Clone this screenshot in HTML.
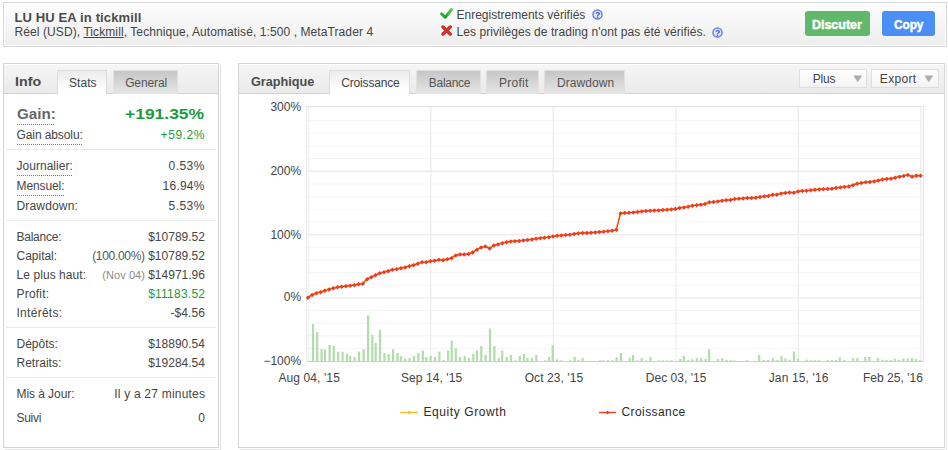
<!DOCTYPE html>
<html><head><meta charset="utf-8"><title>LU HU EA in tickmill</title><style>
*{box-sizing:border-box;margin:0;padding:0}
html,body{width:948px;height:450px;overflow:hidden;background:#fff}
body{position:relative;font-family:"Liberation Sans",sans-serif;font-size:12px;color:#444}
.abs{position:absolute;white-space:nowrap}
.tx{position:absolute;white-space:nowrap;line-height:20px;height:20px}
#hdr{left:3px;top:2px;width:944px;height:45px;border:1px solid #d7d7d7;background:linear-gradient(#fdfdfd,#eeeeee);box-shadow:inset 0 0 0 1px #fff}
.panel{top:63px;height:385px;border:1px solid #d4d4d4;background:#fff;box-shadow:1px 1px 0 0 #fff,2px 2px 1px 0 rgba(0,0,0,.1)}
.tabbar{left:0;top:0;right:0;height:30px;border-bottom:1px solid #d3d3d3;background:linear-gradient(#f6f6f6,#eaeaea);box-shadow:inset 0 1px 0 #fdfdfd}
.tab{top:70px;height:24px;border:1px solid #e1e1e1;border-bottom:none;background:linear-gradient(#c6c6c6,#e6e6e6)}
.tab.on{background:linear-gradient(#ececec,#ffffff 85%);height:24px;border-color:#dcdcdc}
.dot{height:1px;background-image:linear-gradient(90deg,#777 50%,transparent 50%);background-size:2px 1px}
.sep{left:6px;width:210px;height:1px;background:#e9e9e9}
.btn{top:11px;height:25px;border-radius:3px}
.dd{top:69px;height:19px;border:1px solid #dedede;background:linear-gradient(#fff,#f3f3f3)}
</style></head><body>
<div id="hdr" class="abs"></div>
<svg class="abs" style="left:438px;top:6px" width="18" height="15" viewBox="438 6 18 15"><defs><linearGradient id="gc" x1="0" y1="0" x2="0" y2="1"><stop offset="0" stop-color="#52d052"/><stop offset="1" stop-color="#1d9a2c"/></linearGradient><linearGradient id="gx" x1="0" y1="0" x2="0" y2="1"><stop offset="0" stop-color="#e24a4a"/><stop offset="1" stop-color="#b81414"/></linearGradient></defs><path d="M441.5,13.7 L445.2,17.3 L451.5,9.5" fill="none" stroke="url(#gc)" stroke-width="2.9" stroke-linecap="round" stroke-linejoin="round"/></svg>
<svg class="abs" style="left:438px;top:23px" width="18" height="15" viewBox="438 23 18 15"><path d="M442.9,26.9 L450.3,34.1 M450.3,26.9 L442.9,34.1" fill="none" stroke="#c41a1a" stroke-width="3.3" stroke-linecap="round"/><path d="M442.9,26.9 L450.3,34.1 M450.3,26.9 L442.9,34.1" fill="none" stroke="#d93434" stroke-width="1.9" stroke-linecap="round"/></svg>
<svg class="abs" style="left:591.9px;top:9.2px" width="11" height="11" viewBox="0 0 11 11"><circle cx="5.5" cy="5.5" r="4.55" fill="#e6e8f0" stroke="#6a86ea" stroke-width="1.5"/><text x="5.5" y="8.5" font-size="8.6" font-weight="bold" text-anchor="middle" fill="#3152c8" font-family="Liberation Sans">?</text></svg>
<svg class="abs" style="left:711.8px;top:26.6px" width="11" height="11" viewBox="0 0 11 11"><circle cx="5.5" cy="5.5" r="4.55" fill="#e6e8f0" stroke="#6a86ea" stroke-width="1.5"/><text x="5.5" y="8.5" font-size="8.6" font-weight="bold" text-anchor="middle" fill="#3152c8" font-family="Liberation Sans">?</text></svg>
<div class="abs btn" style="left:805px;width:65px;background:#60b96b"></div>
<div class="abs btn" style="left:882px;width:53px;background:#4b8ef6"></div>
<div class="abs panel" style="left:3px;width:216px"><div class="abs tabbar"></div></div>
<div class="abs tab on" style="left:57px;width:50px"></div>
<div class="abs tab" style="left:113px;width:65px"></div>
<div class="abs sep" style="top:149px"></div>
<div class="abs sep" style="top:220px"></div>
<div class="abs sep" style="top:327px"></div>
<div class="abs sep" style="top:377px"></div>
<div class="abs dot" style="left:17px;width:38px;top:124px"></div>
<div class="abs dot" style="left:17px;width:66px;top:144px"></div>
<div class="abs dot" style="left:17px;width:56px;top:175px"></div>
<div class="abs dot" style="left:17px;width:48px;top:195px"></div>
<div class="abs panel" style="left:238px;width:707px"><div class="abs tabbar"></div></div>
<div class="abs tab on" style="left:329px;width:81px"></div>
<div class="abs tab" style="left:416px;width:65px"></div>
<div class="abs tab" style="left:486px;width:53px"></div>
<div class="abs tab" style="left:544px;width:81px"></div>
<div class="abs dd" style="left:799px;width:68px"><svg class="abs" style="left:52.6px;top:4.8px" width="10" height="8" viewBox="0 0 10 8"><path d="M0.3,0.6H9.3L4.8,7.2z" fill="#adadad"/></svg></div>
<div class="abs dd" style="left:871px;width:68px"><svg class="abs" style="left:52.2px;top:4.8px" width="10" height="8" viewBox="0 0 10 8"><path d="M0.3,0.6H9.3L4.8,7.2z" fill="#adadad"/></svg></div>
<svg id="chart" width="948" height="450" viewBox="0 0 948 450" style="position:absolute;left:0;top:0">
<g><line x1="306.2" y1="106.7" x2="924.0" y2="106.7" stroke="#e5e5e5" stroke-width="1.3"/><line x1="306.8" y1="120.66" x2="923.4" y2="120.66" stroke="#f5f5f5" stroke-width="1.1"/><line x1="306.8" y1="133.32" x2="923.4" y2="133.32" stroke="#f5f5f5" stroke-width="1.1"/><line x1="306.8" y1="145.98" x2="923.4" y2="145.98" stroke="#f5f5f5" stroke-width="1.1"/><line x1="306.8" y1="158.64" x2="923.4" y2="158.64" stroke="#f5f5f5" stroke-width="1.1"/><line x1="306.8" y1="171.30" x2="923.4" y2="171.30" stroke="#ebebeb" stroke-width="1.4"/><line x1="306.8" y1="183.96" x2="923.4" y2="183.96" stroke="#f5f5f5" stroke-width="1.1"/><line x1="306.8" y1="196.62" x2="923.4" y2="196.62" stroke="#f5f5f5" stroke-width="1.1"/><line x1="306.8" y1="209.28" x2="923.4" y2="209.28" stroke="#f5f5f5" stroke-width="1.1"/><line x1="306.8" y1="221.94" x2="923.4" y2="221.94" stroke="#f5f5f5" stroke-width="1.1"/><line x1="306.8" y1="234.60" x2="923.4" y2="234.60" stroke="#ebebeb" stroke-width="1.4"/><line x1="306.8" y1="247.26" x2="923.4" y2="247.26" stroke="#f5f5f5" stroke-width="1.1"/><line x1="306.8" y1="259.92" x2="923.4" y2="259.92" stroke="#f5f5f5" stroke-width="1.1"/><line x1="306.8" y1="272.58" x2="923.4" y2="272.58" stroke="#f5f5f5" stroke-width="1.1"/><line x1="306.8" y1="285.24" x2="923.4" y2="285.24" stroke="#f5f5f5" stroke-width="1.1"/><line x1="306.8" y1="297.90" x2="923.4" y2="297.90" stroke="#ebebeb" stroke-width="1.4"/><line x1="306.8" y1="310.56" x2="923.4" y2="310.56" stroke="#f5f5f5" stroke-width="1.1"/><line x1="306.8" y1="323.22" x2="923.4" y2="323.22" stroke="#f5f5f5" stroke-width="1.1"/><line x1="306.8" y1="335.88" x2="923.4" y2="335.88" stroke="#f5f5f5" stroke-width="1.1"/><line x1="306.8" y1="348.54" x2="923.4" y2="348.54" stroke="#f5f5f5" stroke-width="1.1"/><line x1="308.6" y1="107" x2="308.6" y2="361.0" stroke="#f3f3f3" stroke-width="1"/><line x1="430.8" y1="107" x2="430.8" y2="361.0" stroke="#eeeeee" stroke-width="1.3"/><line x1="553.2" y1="107" x2="553.2" y2="361.0" stroke="#eeeeee" stroke-width="1.3"/><line x1="675.9" y1="107" x2="675.9" y2="361.0" stroke="#eeeeee" stroke-width="1.3"/><line x1="798.3" y1="107" x2="798.3" y2="361.0" stroke="#eeeeee" stroke-width="1.3"/><line x1="920.7" y1="107" x2="920.7" y2="361.0" stroke="#eeeeee" stroke-width="1.3"/><line x1="306.8" y1="106.1" x2="306.8" y2="361.0" stroke="#e8e8e8" stroke-width="1.1"/><line x1="923.4" y1="106.1" x2="923.4" y2="361.0" stroke="#e6e6e6" stroke-width="1.3"/></g>
<g fill="#a3d69e" fill-opacity="0.85"><rect x="311.9" y="324.0" width="2.2" height="37.0"/><rect x="316.1" y="332.0" width="2.2" height="29.0"/><rect x="320.5" y="349.2" width="2.2" height="11.8"/><rect x="323.9" y="349.5" width="2.2" height="11.5"/><rect x="328.5" y="345.0" width="2.2" height="16.0"/><rect x="332.7" y="346.0" width="2.2" height="15.0"/><rect x="337.1" y="351.7" width="2.2" height="9.3"/><rect x="341.5" y="351.7" width="2.2" height="9.3"/><rect x="345.9" y="354.0" width="2.2" height="7.0"/><rect x="349.1" y="356.0" width="2.2" height="5.0"/><rect x="353.5" y="357.0" width="2.2" height="4.0"/><rect x="358.0" y="351.7" width="2.2" height="9.3"/><rect x="362.6" y="349.3" width="2.2" height="11.7"/><rect x="367.0" y="315.4" width="2.2" height="45.6"/><rect x="371.2" y="335.0" width="2.2" height="26.0"/><rect x="374.6" y="343.0" width="2.2" height="18.0"/><rect x="378.9" y="329.8" width="2.2" height="31.2"/><rect x="383.4" y="353.0" width="2.2" height="8.0"/><rect x="387.6" y="354.0" width="2.2" height="7.0"/><rect x="392.0" y="349.3" width="2.2" height="11.7"/><rect x="396.4" y="353.0" width="2.2" height="8.0"/><rect x="399.7" y="356.0" width="2.2" height="5.0"/><rect x="404.1" y="359.0" width="2.2" height="2.0"/><rect x="408.5" y="358.0" width="2.2" height="3.0"/><rect x="412.9" y="356.0" width="2.2" height="5.0"/><rect x="417.3" y="353.0" width="2.2" height="8.0"/><rect x="421.7" y="350.5" width="2.2" height="10.5"/><rect x="425.1" y="357.0" width="2.2" height="4.0"/><rect x="429.5" y="356.0" width="2.2" height="5.0"/><rect x="433.9" y="357.0" width="2.2" height="4.0"/><rect x="438.3" y="351.7" width="2.2" height="9.3"/><rect x="442.7" y="360.0" width="2.2" height="1.0"/><rect x="447.0" y="350.5" width="2.2" height="10.5"/><rect x="450.6" y="340.6" width="2.2" height="20.4"/><rect x="454.7" y="348.2" width="2.2" height="12.8"/><rect x="458.9" y="357.0" width="2.2" height="4.0"/><rect x="463.6" y="356.0" width="2.2" height="5.0"/><rect x="467.8" y="358.0" width="2.2" height="3.0"/><rect x="472.2" y="354.0" width="2.2" height="7.0"/><rect x="475.9" y="350.5" width="2.2" height="10.5"/><rect x="480.2" y="346.0" width="2.2" height="15.0"/><rect x="484.5" y="355.0" width="2.2" height="6.0"/><rect x="488.9" y="328.6" width="2.2" height="32.4"/><rect x="493.3" y="346.0" width="2.2" height="15.0"/><rect x="497.7" y="358.0" width="2.2" height="3.0"/><rect x="501.1" y="350.5" width="2.2" height="10.5"/><rect x="505.5" y="357.0" width="2.2" height="4.0"/><rect x="509.9" y="355.0" width="2.2" height="6.0"/><rect x="514.3" y="360.3" width="2.2" height="0.7"/><rect x="518.7" y="356.0" width="2.2" height="5.0"/><rect x="522.9" y="354.0" width="2.2" height="7.0"/><rect x="526.4" y="358.0" width="2.2" height="3.0"/><rect x="530.8" y="358.0" width="2.2" height="3.0"/><rect x="535.2" y="355.0" width="2.2" height="6.0"/><rect x="544.0" y="360.3" width="2.2" height="0.7"/><rect x="548.2" y="357.0" width="2.2" height="4.0"/><rect x="551.6" y="345.0" width="2.2" height="16.0"/><rect x="556.0" y="359.3" width="2.2" height="1.7"/><rect x="560.4" y="360.3" width="2.2" height="0.7"/><rect x="569.2" y="360.3" width="2.2" height="0.7"/><rect x="573.6" y="357.0" width="2.2" height="4.0"/><rect x="577.3" y="359.8" width="2.2" height="1.2"/><rect x="581.5" y="358.0" width="2.2" height="3.0"/><rect x="599.1" y="360.3" width="2.2" height="0.7"/><rect x="602.3" y="360.3" width="2.2" height="0.7"/><rect x="606.9" y="360.2" width="2.2" height="0.8"/><rect x="611.1" y="360.2" width="2.2" height="0.8"/><rect x="615.5" y="357.3" width="2.2" height="3.7"/><rect x="619.8" y="352.9" width="2.2" height="8.1"/><rect x="628.6" y="358.1" width="2.2" height="2.9"/><rect x="632.0" y="355.0" width="2.2" height="6.0"/><rect x="636.4" y="360.3" width="2.2" height="0.7"/><rect x="640.6" y="358.1" width="2.2" height="2.9"/><rect x="645.0" y="360.3" width="2.2" height="0.7"/><rect x="649.4" y="357.0" width="2.2" height="4.0"/><rect x="657.5" y="360.3" width="2.2" height="0.7"/><rect x="661.9" y="360.3" width="2.2" height="0.7"/><rect x="666.1" y="360.3" width="2.2" height="0.7"/><rect x="670.5" y="360.3" width="2.2" height="0.7"/><rect x="679.1" y="359.0" width="2.2" height="2.0"/><rect x="682.7" y="356.0" width="2.2" height="5.0"/><rect x="687.1" y="359.8" width="2.2" height="1.2"/><rect x="691.3" y="359.3" width="2.2" height="1.7"/><rect x="695.7" y="358.1" width="2.2" height="2.9"/><rect x="700.1" y="358.1" width="2.2" height="2.9"/><rect x="704.5" y="359.0" width="2.2" height="2.0"/><rect x="708.0" y="349.3" width="2.2" height="11.7"/><rect x="716.8" y="359.0" width="2.2" height="2.0"/><rect x="721.0" y="358.1" width="2.2" height="2.9"/><rect x="725.3" y="359.8" width="2.2" height="1.2"/><rect x="729.8" y="360.3" width="2.2" height="0.7"/><rect x="733.2" y="360.3" width="2.2" height="0.7"/><rect x="746.2" y="360.2" width="2.2" height="0.8"/><rect x="758.1" y="354.9" width="2.2" height="6.1"/><rect x="762.7" y="360.0" width="2.2" height="1.0"/><rect x="767.1" y="360.0" width="2.2" height="1.0"/><rect x="771.8" y="358.5" width="2.2" height="2.5"/><rect x="776.2" y="360.0" width="2.2" height="1.0"/><rect x="780.4" y="356.2" width="2.2" height="4.8"/><rect x="784.3" y="358.5" width="2.2" height="2.5"/><rect x="788.6" y="359.7" width="2.2" height="1.3"/><rect x="792.9" y="351.5" width="2.2" height="9.5"/><rect x="797.1" y="359.0" width="2.2" height="2.0"/><rect x="805.7" y="359.7" width="2.2" height="1.3"/><rect x="809.7" y="360.2" width="2.2" height="0.8"/><rect x="813.9" y="360.2" width="2.2" height="0.8"/><rect x="818.1" y="360.2" width="2.2" height="0.8"/><rect x="826.7" y="360.2" width="2.2" height="0.8"/><rect x="830.7" y="360.0" width="2.2" height="1.0"/><rect x="834.9" y="360.0" width="2.2" height="1.0"/><rect x="838.7" y="357.4" width="2.2" height="3.6"/><rect x="843.1" y="360.0" width="2.2" height="1.0"/><rect x="852.1" y="358.1" width="2.2" height="2.9"/><rect x="856.3" y="358.1" width="2.2" height="2.9"/><rect x="864.1" y="357.0" width="2.2" height="4.0"/><rect x="868.3" y="357.0" width="2.2" height="4.0"/><rect x="876.9" y="358.1" width="2.2" height="2.9"/><rect x="881.3" y="359.7" width="2.2" height="1.3"/><rect x="885.5" y="360.0" width="2.2" height="1.0"/><rect x="889.7" y="360.0" width="2.2" height="1.0"/><rect x="893.7" y="358.7" width="2.2" height="2.3"/><rect x="897.9" y="360.0" width="2.2" height="1.0"/><rect x="902.3" y="358.5" width="2.2" height="2.5"/><rect x="906.5" y="358.7" width="2.2" height="2.3"/><rect x="910.8" y="358.1" width="2.2" height="2.9"/><rect x="914.8" y="359.1" width="2.2" height="1.9"/><rect x="918.9" y="360.2" width="2.2" height="0.8"/></g>
<line x1="306.8" y1="361.45" x2="924.0" y2="361.45" stroke="#c4d1e2" stroke-width="1.15"/>
<path d="M307.9,297.6 L312.1,295.0 L316.4,293.3 L320.6,292.2 L324.8,290.8 L329.0,289.5 L333.3,288.3 L337.5,287.4 L341.7,286.8 L345.9,286.1 L350.2,285.7 L354.4,285.1 L358.6,284.4 L362.8,283.7 L367.1,279.3 L371.3,277.3 L375.5,275.1 L379.7,273.4 L384.0,272.2 L388.2,271.2 L392.4,269.9 L396.6,269.2 L400.9,268.3 L405.1,267.5 L409.3,266.1 L413.5,265.1 L417.8,263.8 L422.0,262.4 L426.2,262.1 L430.4,261.4 L434.7,260.7 L438.9,259.9 L443.1,260.1 L447.3,259.2 L451.6,258.1 L455.8,255.5 L460.0,254.6 L464.2,254.4 L468.5,254.1 L472.7,252.4 L476.9,249.8 L481.1,247.6 L485.4,246.5 L489.6,248.5 L493.8,245.6 L498.0,244.4 L502.3,243.2 L506.5,242.2 L510.7,241.6 L514.9,241.2 L519.2,240.9 L523.4,240.5 L527.6,239.9 L531.9,239.4 L536.1,238.7 L540.3,238.2 L544.5,237.7 L548.8,237.2 L553.0,236.5 L557.2,235.8 L561.4,235.5 L565.7,235.1 L569.9,234.8 L574.1,234.1 L578.3,233.4 L582.6,233.1 L586.8,232.9 L591.0,232.8 L595.2,232.4 L599.5,232.1 L603.7,231.8 L607.9,231.3 L612.1,230.7 L616.4,229.8 L620.6,213.4 L624.8,213.1 L629.0,212.8 L633.3,212.4 L637.5,211.9 L641.7,211.4 L645.9,211.1 L650.2,210.7 L654.4,210.6 L658.6,210.4 L662.8,210.1 L667.1,209.7 L671.3,209.4 L675.5,209.1 L679.7,207.9 L684.0,207.4 L688.2,206.7 L692.4,205.8 L696.6,205.3 L700.9,204.7 L705.1,204.0 L709.3,202.3 L713.5,202.0 L717.8,201.5 L722.0,200.8 L726.2,200.3 L730.5,199.9 L734.7,199.1 L738.9,198.8 L743.1,198.4 L747.4,198.1 L751.6,197.9 L755.8,197.7 L760.0,197.1 L764.3,196.4 L768.5,195.9 L772.7,194.7 L776.9,194.7 L781.2,193.6 L785.4,193.0 L789.6,192.4 L793.8,192.8 L798.1,191.5 L802.3,191.1 L806.5,190.7 L810.7,190.3 L815.0,189.7 L819.2,189.4 L823.4,189.2 L827.6,189.0 L831.9,188.8 L836.1,188.0 L840.3,187.5 L844.5,186.9 L848.8,186.5 L853.0,185.2 L857.2,183.8 L861.4,183.1 L865.7,182.3 L869.9,182.1 L874.1,181.5 L878.3,180.6 L882.6,179.6 L886.8,179.0 L891.0,178.7 L895.2,177.7 L899.5,176.8 L903.7,176.0 L907.9,175.0 L912.1,176.8 L916.4,175.8 L920.6,175.8" fill="none" stroke="#f8b820" stroke-width="1.5" transform="translate(-0.3,-0.5)"/>
<path d="M307.9,297.6 L312.1,295.0 L316.4,293.3 L320.6,292.2 L324.8,290.8 L329.0,289.5 L333.3,288.3 L337.5,287.4 L341.7,286.8 L345.9,286.1 L350.2,285.7 L354.4,285.1 L358.6,284.4 L362.8,283.7 L367.1,279.3 L371.3,277.3 L375.5,275.1 L379.7,273.4 L384.0,272.2 L388.2,271.2 L392.4,269.9 L396.6,269.2 L400.9,268.3 L405.1,267.5 L409.3,266.1 L413.5,265.1 L417.8,263.8 L422.0,262.4 L426.2,262.1 L430.4,261.4 L434.7,260.7 L438.9,259.9 L443.1,260.1 L447.3,259.2 L451.6,258.1 L455.8,255.5 L460.0,254.6 L464.2,254.4 L468.5,254.1 L472.7,252.4 L476.9,249.8 L481.1,247.6 L485.4,246.5 L489.6,248.5 L493.8,245.6 L498.0,244.4 L502.3,243.2 L506.5,242.2 L510.7,241.6 L514.9,241.2 L519.2,240.9 L523.4,240.5 L527.6,239.9 L531.9,239.4 L536.1,238.7 L540.3,238.2 L544.5,237.7 L548.8,237.2 L553.0,236.5 L557.2,235.8 L561.4,235.5 L565.7,235.1 L569.9,234.8 L574.1,234.1 L578.3,233.4 L582.6,233.1 L586.8,232.9 L591.0,232.8 L595.2,232.4 L599.5,232.1 L603.7,231.8 L607.9,231.3 L612.1,230.7 L616.4,229.8 L620.6,213.4 L624.8,213.1 L629.0,212.8 L633.3,212.4 L637.5,211.9 L641.7,211.4 L645.9,211.1 L650.2,210.7 L654.4,210.6 L658.6,210.4 L662.8,210.1 L667.1,209.7 L671.3,209.4 L675.5,209.1 L679.7,207.9 L684.0,207.4 L688.2,206.7 L692.4,205.8 L696.6,205.3 L700.9,204.7 L705.1,204.0 L709.3,202.3 L713.5,202.0 L717.8,201.5 L722.0,200.8 L726.2,200.3 L730.5,199.9 L734.7,199.1 L738.9,198.8 L743.1,198.4 L747.4,198.1 L751.6,197.9 L755.8,197.7 L760.0,197.1 L764.3,196.4 L768.5,195.9 L772.7,194.7 L776.9,194.7 L781.2,193.6 L785.4,193.0 L789.6,192.4 L793.8,192.8 L798.1,191.5 L802.3,191.1 L806.5,190.7 L810.7,190.3 L815.0,189.7 L819.2,189.4 L823.4,189.2 L827.6,189.0 L831.9,188.8 L836.1,188.0 L840.3,187.5 L844.5,186.9 L848.8,186.5 L853.0,185.2 L857.2,183.8 L861.4,183.1 L865.7,182.3 L869.9,182.1 L874.1,181.5 L878.3,180.6 L882.6,179.6 L886.8,179.0 L891.0,178.7 L895.2,177.7 L899.5,176.8 L903.7,176.0 L907.9,175.0 L912.1,176.8 L916.4,175.8 L920.6,175.8" fill="none" stroke="#ee3b25" stroke-width="1.15" stroke-linejoin="round"/>
<g fill="#ee3b25"><path d="M307.9,295.4l2.25,2.25l-2.25,2.25l-2.25,-2.25z"/><path d="M312.1,292.8l2.25,2.25l-2.25,2.25l-2.25,-2.25z"/><path d="M316.4,291.1l2.25,2.25l-2.25,2.25l-2.25,-2.25z"/><path d="M320.6,289.9l2.25,2.25l-2.25,2.25l-2.25,-2.25z"/><path d="M324.8,288.6l2.25,2.25l-2.25,2.25l-2.25,-2.25z"/><path d="M329.0,287.2l2.25,2.25l-2.25,2.25l-2.25,-2.25z"/><path d="M333.3,286.1l2.25,2.25l-2.25,2.25l-2.25,-2.25z"/><path d="M337.5,285.1l2.25,2.25l-2.25,2.25l-2.25,-2.25z"/><path d="M341.7,284.6l2.25,2.25l-2.25,2.25l-2.25,-2.25z"/><path d="M345.9,283.9l2.25,2.25l-2.25,2.25l-2.25,-2.25z"/><path d="M350.2,283.4l2.25,2.25l-2.25,2.25l-2.25,-2.25z"/><path d="M354.4,282.9l2.25,2.25l-2.25,2.25l-2.25,-2.25z"/><path d="M358.6,282.1l2.25,2.25l-2.25,2.25l-2.25,-2.25z"/><path d="M362.8,281.4l2.25,2.25l-2.25,2.25l-2.25,-2.25z"/><path d="M367.1,277.1l2.25,2.25l-2.25,2.25l-2.25,-2.25z"/><path d="M371.3,275.1l2.25,2.25l-2.25,2.25l-2.25,-2.25z"/><path d="M375.5,272.9l2.25,2.25l-2.25,2.25l-2.25,-2.25z"/><path d="M379.7,271.1l2.25,2.25l-2.25,2.25l-2.25,-2.25z"/><path d="M384.0,269.9l2.25,2.25l-2.25,2.25l-2.25,-2.25z"/><path d="M388.2,268.9l2.25,2.25l-2.25,2.25l-2.25,-2.25z"/><path d="M392.4,267.6l2.25,2.25l-2.25,2.25l-2.25,-2.25z"/><path d="M396.6,266.9l2.25,2.25l-2.25,2.25l-2.25,-2.25z"/><path d="M400.9,266.1l2.25,2.25l-2.25,2.25l-2.25,-2.25z"/><path d="M405.1,265.2l2.25,2.25l-2.25,2.25l-2.25,-2.25z"/><path d="M409.3,263.9l2.25,2.25l-2.25,2.25l-2.25,-2.25z"/><path d="M413.5,262.9l2.25,2.25l-2.25,2.25l-2.25,-2.25z"/><path d="M417.8,261.6l2.25,2.25l-2.25,2.25l-2.25,-2.25z"/><path d="M422.0,260.1l2.25,2.25l-2.25,2.25l-2.25,-2.25z"/><path d="M426.2,259.9l2.25,2.25l-2.25,2.25l-2.25,-2.25z"/><path d="M430.4,259.1l2.25,2.25l-2.25,2.25l-2.25,-2.25z"/><path d="M434.7,258.4l2.25,2.25l-2.25,2.25l-2.25,-2.25z"/><path d="M438.9,257.6l2.25,2.25l-2.25,2.25l-2.25,-2.25z"/><path d="M443.1,257.9l2.25,2.25l-2.25,2.25l-2.25,-2.25z"/><path d="M447.3,256.9l2.25,2.25l-2.25,2.25l-2.25,-2.25z"/><path d="M451.6,255.9l2.25,2.25l-2.25,2.25l-2.25,-2.25z"/><path d="M455.8,253.2l2.25,2.25l-2.25,2.25l-2.25,-2.25z"/><path d="M460.0,252.3l2.25,2.25l-2.25,2.25l-2.25,-2.25z"/><path d="M464.2,252.2l2.25,2.25l-2.25,2.25l-2.25,-2.25z"/><path d="M468.5,251.8l2.25,2.25l-2.25,2.25l-2.25,-2.25z"/><path d="M472.7,250.2l2.25,2.25l-2.25,2.25l-2.25,-2.25z"/><path d="M476.9,247.6l2.25,2.25l-2.25,2.25l-2.25,-2.25z"/><path d="M481.1,245.3l2.25,2.25l-2.25,2.25l-2.25,-2.25z"/><path d="M485.4,244.2l2.25,2.25l-2.25,2.25l-2.25,-2.25z"/><path d="M489.6,246.2l2.25,2.25l-2.25,2.25l-2.25,-2.25z"/><path d="M493.8,243.3l2.25,2.25l-2.25,2.25l-2.25,-2.25z"/><path d="M498.0,242.2l2.25,2.25l-2.25,2.25l-2.25,-2.25z"/><path d="M502.3,240.9l2.25,2.25l-2.25,2.25l-2.25,-2.25z"/><path d="M506.5,239.9l2.25,2.25l-2.25,2.25l-2.25,-2.25z"/><path d="M510.7,239.3l2.25,2.25l-2.25,2.25l-2.25,-2.25z"/><path d="M514.9,238.9l2.25,2.25l-2.25,2.25l-2.25,-2.25z"/><path d="M519.2,238.7l2.25,2.25l-2.25,2.25l-2.25,-2.25z"/><path d="M523.4,238.2l2.25,2.25l-2.25,2.25l-2.25,-2.25z"/><path d="M527.6,237.7l2.25,2.25l-2.25,2.25l-2.25,-2.25z"/><path d="M531.9,237.2l2.25,2.25l-2.25,2.25l-2.25,-2.25z"/><path d="M536.1,236.4l2.25,2.25l-2.25,2.25l-2.25,-2.25z"/><path d="M540.3,235.9l2.25,2.25l-2.25,2.25l-2.25,-2.25z"/><path d="M544.5,235.4l2.25,2.25l-2.25,2.25l-2.25,-2.25z"/><path d="M548.8,234.9l2.25,2.25l-2.25,2.25l-2.25,-2.25z"/><path d="M553.0,234.2l2.25,2.25l-2.25,2.25l-2.25,-2.25z"/><path d="M557.2,233.6l2.25,2.25l-2.25,2.25l-2.25,-2.25z"/><path d="M561.4,233.2l2.25,2.25l-2.25,2.25l-2.25,-2.25z"/><path d="M565.7,232.8l2.25,2.25l-2.25,2.25l-2.25,-2.25z"/><path d="M569.9,232.6l2.25,2.25l-2.25,2.25l-2.25,-2.25z"/><path d="M574.1,231.8l2.25,2.25l-2.25,2.25l-2.25,-2.25z"/><path d="M578.3,231.2l2.25,2.25l-2.25,2.25l-2.25,-2.25z"/><path d="M582.6,230.8l2.25,2.25l-2.25,2.25l-2.25,-2.25z"/><path d="M586.8,230.7l2.25,2.25l-2.25,2.25l-2.25,-2.25z"/><path d="M591.0,230.6l2.25,2.25l-2.25,2.25l-2.25,-2.25z"/><path d="M595.2,230.2l2.25,2.25l-2.25,2.25l-2.25,-2.25z"/><path d="M599.5,229.8l2.25,2.25l-2.25,2.25l-2.25,-2.25z"/><path d="M603.7,229.6l2.25,2.25l-2.25,2.25l-2.25,-2.25z"/><path d="M607.9,229.1l2.25,2.25l-2.25,2.25l-2.25,-2.25z"/><path d="M612.1,228.4l2.25,2.25l-2.25,2.25l-2.25,-2.25z"/><path d="M616.4,227.6l2.25,2.25l-2.25,2.25l-2.25,-2.25z"/><path d="M620.6,211.2l2.25,2.25l-2.25,2.25l-2.25,-2.25z"/><path d="M624.8,210.8l2.25,2.25l-2.25,2.25l-2.25,-2.25z"/><path d="M629.0,210.6l2.25,2.25l-2.25,2.25l-2.25,-2.25z"/><path d="M633.3,210.2l2.25,2.25l-2.25,2.25l-2.25,-2.25z"/><path d="M637.5,209.7l2.25,2.25l-2.25,2.25l-2.25,-2.25z"/><path d="M641.7,209.2l2.25,2.25l-2.25,2.25l-2.25,-2.25z"/><path d="M645.9,208.8l2.25,2.25l-2.25,2.25l-2.25,-2.25z"/><path d="M650.2,208.4l2.25,2.25l-2.25,2.25l-2.25,-2.25z"/><path d="M654.4,208.3l2.25,2.25l-2.25,2.25l-2.25,-2.25z"/><path d="M658.6,208.2l2.25,2.25l-2.25,2.25l-2.25,-2.25z"/><path d="M662.8,207.8l2.25,2.25l-2.25,2.25l-2.25,-2.25z"/><path d="M667.1,207.4l2.25,2.25l-2.25,2.25l-2.25,-2.25z"/><path d="M671.3,207.2l2.25,2.25l-2.25,2.25l-2.25,-2.25z"/><path d="M675.5,206.8l2.25,2.25l-2.25,2.25l-2.25,-2.25z"/><path d="M679.7,205.7l2.25,2.25l-2.25,2.25l-2.25,-2.25z"/><path d="M684.0,205.2l2.25,2.25l-2.25,2.25l-2.25,-2.25z"/><path d="M688.2,204.4l2.25,2.25l-2.25,2.25l-2.25,-2.25z"/><path d="M692.4,203.6l2.25,2.25l-2.25,2.25l-2.25,-2.25z"/><path d="M696.6,203.1l2.25,2.25l-2.25,2.25l-2.25,-2.25z"/><path d="M700.9,202.4l2.25,2.25l-2.25,2.25l-2.25,-2.25z"/><path d="M705.1,201.8l2.25,2.25l-2.25,2.25l-2.25,-2.25z"/><path d="M709.3,200.1l2.25,2.25l-2.25,2.25l-2.25,-2.25z"/><path d="M713.5,199.8l2.25,2.25l-2.25,2.25l-2.25,-2.25z"/><path d="M717.8,199.2l2.25,2.25l-2.25,2.25l-2.25,-2.25z"/><path d="M722.0,198.6l2.25,2.25l-2.25,2.25l-2.25,-2.25z"/><path d="M726.2,198.1l2.25,2.25l-2.25,2.25l-2.25,-2.25z"/><path d="M730.5,197.7l2.25,2.25l-2.25,2.25l-2.25,-2.25z"/><path d="M734.7,196.8l2.25,2.25l-2.25,2.25l-2.25,-2.25z"/><path d="M738.9,196.6l2.25,2.25l-2.25,2.25l-2.25,-2.25z"/><path d="M743.1,196.2l2.25,2.25l-2.25,2.25l-2.25,-2.25z"/><path d="M747.4,195.8l2.25,2.25l-2.25,2.25l-2.25,-2.25z"/><path d="M751.6,195.7l2.25,2.25l-2.25,2.25l-2.25,-2.25z"/><path d="M755.8,195.4l2.25,2.25l-2.25,2.25l-2.25,-2.25z"/><path d="M760.0,194.8l2.25,2.25l-2.25,2.25l-2.25,-2.25z"/><path d="M764.3,194.2l2.25,2.25l-2.25,2.25l-2.25,-2.25z"/><path d="M768.5,193.7l2.25,2.25l-2.25,2.25l-2.25,-2.25z"/><path d="M772.7,192.4l2.25,2.25l-2.25,2.25l-2.25,-2.25z"/><path d="M776.9,192.4l2.25,2.25l-2.25,2.25l-2.25,-2.25z"/><path d="M781.2,191.3l2.25,2.25l-2.25,2.25l-2.25,-2.25z"/><path d="M785.4,190.8l2.25,2.25l-2.25,2.25l-2.25,-2.25z"/><path d="M789.6,190.2l2.25,2.25l-2.25,2.25l-2.25,-2.25z"/><path d="M793.8,190.6l2.25,2.25l-2.25,2.25l-2.25,-2.25z"/><path d="M798.1,189.2l2.25,2.25l-2.25,2.25l-2.25,-2.25z"/><path d="M802.3,188.8l2.25,2.25l-2.25,2.25l-2.25,-2.25z"/><path d="M806.5,188.4l2.25,2.25l-2.25,2.25l-2.25,-2.25z"/><path d="M810.7,188.1l2.25,2.25l-2.25,2.25l-2.25,-2.25z"/><path d="M815.0,187.4l2.25,2.25l-2.25,2.25l-2.25,-2.25z"/><path d="M819.2,187.2l2.25,2.25l-2.25,2.25l-2.25,-2.25z"/><path d="M823.4,186.9l2.25,2.25l-2.25,2.25l-2.25,-2.25z"/><path d="M827.6,186.8l2.25,2.25l-2.25,2.25l-2.25,-2.25z"/><path d="M831.9,186.6l2.25,2.25l-2.25,2.25l-2.25,-2.25z"/><path d="M836.1,185.8l2.25,2.25l-2.25,2.25l-2.25,-2.25z"/><path d="M840.3,185.2l2.25,2.25l-2.25,2.25l-2.25,-2.25z"/><path d="M844.5,184.7l2.25,2.25l-2.25,2.25l-2.25,-2.25z"/><path d="M848.8,184.2l2.25,2.25l-2.25,2.25l-2.25,-2.25z"/><path d="M853.0,182.9l2.25,2.25l-2.25,2.25l-2.25,-2.25z"/><path d="M857.2,181.6l2.25,2.25l-2.25,2.25l-2.25,-2.25z"/><path d="M861.4,180.8l2.25,2.25l-2.25,2.25l-2.25,-2.25z"/><path d="M865.7,180.1l2.25,2.25l-2.25,2.25l-2.25,-2.25z"/><path d="M869.9,179.8l2.25,2.25l-2.25,2.25l-2.25,-2.25z"/><path d="M874.1,179.2l2.25,2.25l-2.25,2.25l-2.25,-2.25z"/><path d="M878.3,178.3l2.25,2.25l-2.25,2.25l-2.25,-2.25z"/><path d="M882.6,177.3l2.25,2.25l-2.25,2.25l-2.25,-2.25z"/><path d="M886.8,176.8l2.25,2.25l-2.25,2.25l-2.25,-2.25z"/><path d="M891.0,176.4l2.25,2.25l-2.25,2.25l-2.25,-2.25z"/><path d="M895.2,175.4l2.25,2.25l-2.25,2.25l-2.25,-2.25z"/><path d="M899.5,174.6l2.25,2.25l-2.25,2.25l-2.25,-2.25z"/><path d="M903.7,173.8l2.25,2.25l-2.25,2.25l-2.25,-2.25z"/><path d="M907.9,172.8l2.25,2.25l-2.25,2.25l-2.25,-2.25z"/><path d="M912.1,174.6l2.25,2.25l-2.25,2.25l-2.25,-2.25z"/><path d="M916.4,173.6l2.25,2.25l-2.25,2.25l-2.25,-2.25z"/><path d="M920.6,173.6l2.25,2.25l-2.25,2.25l-2.25,-2.25z"/></g>
<line x1="400.3" y1="412.5" x2="418" y2="412.5" stroke="#fcc024" stroke-width="1.4"/><path d="M409.3,410.5l2,2l-2,2l-2,-2z" fill="#fcbc20"/>
<line x1="599" y1="412.5" x2="616" y2="412.5" stroke="#ee3b25" stroke-width="1.4"/><path d="M607.5,410.6l1.9,1.9l-1.9,1.9l-1.9,-1.9z" fill="#ee3b25"/>
</svg>
<div class="tx" id="t1" style="font-size:13px;color:#4a4a4a;font-weight:bold;letter-spacing:0.122px;left:14.50px;top:8.06px;">LU HU EA in tickmill</div>
<div class="tx" id="t2" style="font-size:12px;color:#444;letter-spacing:0.090px;left:14.50px;top:21.80px;">Réel (USD), <u>Tickmill</u>, Technique, Automatisé, 1:500 , MetaTrader 4</div>
<div class="tx" id="v1" style="font-size:12px;color:#444;letter-spacing:0.004px;left:456.50px;top:4.70px;">Enregistrements vérifiés</div>
<div class="tx" id="v2" style="font-size:12px;color:#444;letter-spacing:0.060px;left:456.50px;top:21.70px;">Les privilèges de trading n'ont pas été vérifiés.</div>
<div class="tx" id="b1" style="font-size:12px;color:#fff;font-weight:bold;transform:scaleX(1.0368);transform-origin:left center;left:812.40px;top:15.20px;-webkit-text-stroke:0.45px #fff;">Discuter</div>
<div class="tx" id="b2" style="font-size:12px;color:#fff;font-weight:bold;transform:scaleX(0.9800);transform-origin:left center;left:893.60px;top:15.20px;-webkit-text-stroke:0.45px #fff;">Copy</div>
<div class="tx" id="info" style="font-size:12px;color:#4c4c4c;font-weight:bold;transform:scaleX(1.1864);transform-origin:left center;left:15.00px;top:72.00px;">Info</div>
<div class="tx" id="tab1" style="font-size:12px;color:#444;letter-spacing:0.060px;left:69.00px;top:73.00px;">Stats</div>
<div class="tx" id="tab2" style="font-size:12px;color:#555;letter-spacing:-0.101px;left:125.15px;top:73.00px;">General</div>
<div class="tx" id="gain" style="font-size:14.3px;color:#666;font-weight:bold;transform:scaleX(1.0617);transform-origin:left center;left:16.50px;top:104.21px;">Gain:</div>
<div class="tx" id="gainv" style="font-size:14.3px;color:#1b9c3c;font-weight:bold;transform:scaleX(1.2207);transform-origin:left center;left:125.30px;top:104.21px;">+191.35%</div>
<div class="tx" id="l_ga" style="font-size:12px;color:#454545;letter-spacing:-0.099px;left:16.50px;top:125.00px;">Gain absolu:</div>
<div class="tx" id="r_ga" style="font-size:12px;color:#1b9c3c;letter-spacing:0.551px;left:160.60px;top:125.00px;">+59.2%</div>
<div class="tx" id="l_jo" style="font-size:12px;color:#454545;letter-spacing:0.027px;left:16.50px;top:156.00px;">Journalier:</div>
<div class="tx" id="r_jo" style="font-size:12px;color:#454545;letter-spacing:0.442px;left:168.60px;top:156.00px;">0.53%</div>
<div class="tx" id="l_me" style="font-size:12px;color:#454545;letter-spacing:-0.100px;left:16.50px;top:176.00px;">Mensuel:</div>
<div class="tx" id="r_me" style="font-size:12px;color:#454545;letter-spacing:0.219px;left:162.60px;top:176.00px;">16.94%</div>
<div class="tx" id="l_dd" style="font-size:12px;color:#454545;letter-spacing:0.159px;left:16.50px;top:196.00px;">Drawdown:</div>
<div class="tx" id="r_dd" style="font-size:12px;color:#454545;letter-spacing:0.442px;left:168.60px;top:196.00px;">5.53%</div>
<div class="tx" id="l_ba" style="font-size:12px;color:#454545;letter-spacing:-0.243px;left:16.50px;top:227.00px;">Balance:</div>
<div class="tx" id="r_ba" style="font-size:12px;color:#454545;letter-spacing:0.008px;left:148.20px;top:227.00px;">$10789.52</div>
<div class="tx" id="l_ca" style="font-size:12px;color:#454545;letter-spacing:-0.013px;left:16.50px;top:246.00px;">Capital:</div>
<div class="tx" id="r_ca" style="font-size:12px;color:#454545;letter-spacing:0.008px;left:148.20px;top:246.00px;">$10789.52</div>
<div class="tx" id="l_hi" style="font-size:12px;color:#454545;letter-spacing:0.073px;left:16.50px;top:265.00px;">Le plus haut:</div>
<div class="tx" id="r_hi" style="font-size:12px;color:#454545;letter-spacing:0.008px;left:148.20px;top:265.00px;">$14971.96</div>
<div class="tx" id="l_pr" style="font-size:12px;color:#454545;letter-spacing:0.209px;left:16.50px;top:284.00px;">Profit:</div>
<div class="tx" id="r_pr" style="font-size:12px;color:#1b9c3c;letter-spacing:0.231px;left:148.20px;top:284.00px;">$11183.52</div>
<div class="tx" id="l_in" style="font-size:12px;color:#454545;letter-spacing:0.280px;left:16.50px;top:303.00px;">Intérêts:</div>
<div class="tx" id="r_in" style="font-size:12px;color:#454545;letter-spacing:0.114px;left:170.40px;top:303.00px;">-$4.56</div>
<div class="tx" id="l_de" style="font-size:12px;color:#454545;letter-spacing:-0.010px;left:16.50px;top:334.00px;">Dépôts:</div>
<div class="tx" id="r_de" style="font-size:12px;color:#454545;letter-spacing:0.008px;left:148.20px;top:334.00px;">$18890.54</div>
<div class="tx" id="l_re" style="font-size:12px;color:#454545;letter-spacing:0.014px;left:16.50px;top:353.00px;">Retraits:</div>
<div class="tx" id="r_re" style="font-size:12px;color:#454545;letter-spacing:0.008px;left:148.20px;top:353.00px;">$19284.54</div>
<div class="tx" id="l_mj" style="font-size:12px;color:#454545;letter-spacing:-0.069px;left:16.50px;top:384.00px;">Mis à Jour:</div>
<div class="tx" id="r_mj" style="font-size:12px;color:#454545;letter-spacing:0.214px;left:114.20px;top:384.00px;">Il y a 27 minutes</div>
<div class="tx" id="l_su" style="font-size:12px;color:#454545;letter-spacing:-0.304px;left:16.50px;top:408.00px;">Suivi</div>
<div class="tx" id="r_su" style="font-size:12px;color:#454545;letter-spacing:0.000px;left:198.31px;top:408.00px;">0</div>
<div class="tx" id="pc" style="font-size:12px;color:#555;letter-spacing:-0.322px;left:92.20px;top:246.00px;">(100.00%)</div>
<div class="tx" id="nv" style="font-size:11px;color:#8a8a8a;letter-spacing:0.087px;left:102.20px;top:265.35px;">(Nov 04)</div>
<div class="tx" id="graph" style="font-size:12px;color:#4c4c4c;font-weight:bold;transform:scaleX(1.0564);transform-origin:left center;left:250.70px;top:72.00px;">Graphique</div>
<div class="tx" id="tab3" style="font-size:12px;color:#444;letter-spacing:-0.192px;left:341.35px;top:73.00px;">Croissance</div>
<div class="tx" id="tab4" style="font-size:12px;color:#555;letter-spacing:-0.296px;left:428.80px;top:73.00px;">Balance</div>
<div class="tx" id="tab5" style="font-size:12px;color:#555;letter-spacing:0.257px;left:499.05px;top:73.00px;">Profit</div>
<div class="tx" id="tab6" style="font-size:12px;color:#555;letter-spacing:0.042px;left:557.10px;top:73.00px;">Drawdown</div>
<div class="tx" id="plus" style="font-size:12px;color:#444;letter-spacing:-0.181px;left:812.80px;top:69.00px;">Plus</div>
<div class="tx" id="exp" style="font-size:12px;color:#444;letter-spacing:0.342px;left:879.80px;top:69.00px;">Export</div>
<div class="tx" id="y30" style="font-size:12px;color:#444;left:270.40px;top:97.00px;">300%</div>
<div class="tx" id="y20" style="font-size:12px;color:#444;left:270.40px;top:161.00px;">200%</div>
<div class="tx" id="y10" style="font-size:12px;color:#444;left:270.40px;top:225.00px;">100%</div>
<div class="tx" id="y0%" style="font-size:12px;color:#444;left:283.76px;top:287.00px;">0%</div>
<div class="tx" id="ym1" style="font-size:12px;color:#444;left:263.40px;top:351.00px;">−100%</div>
<div class="tx" id="xAug" style="font-size:12px;color:#444;letter-spacing:0.096px;left:278.50px;top:368.00px;">Aug 04, '15</div>
<div class="tx" id="xSep" style="font-size:12px;color:#444;letter-spacing:0.096px;left:400.90px;top:368.00px;">Sep 14, '15</div>
<div class="tx" id="xOct" style="font-size:12px;color:#444;letter-spacing:0.074px;left:524.70px;top:368.00px;">Oct 23, '15</div>
<div class="tx" id="xDec" style="font-size:12px;color:#444;letter-spacing:0.037px;left:645.80px;top:368.00px;">Dec 03, '15</div>
<div class="tx" id="xJan" style="font-size:12px;color:#444;letter-spacing:0.146px;left:768.70px;top:368.00px;">Jan 15, '16</div>
<div class="tx" id="xFeb" style="font-size:12px;color:#444;letter-spacing:0.043px;left:862.90px;top:368.00px;">Feb 25, '16</div>
<div class="tx" id="lg1" style="font-size:12px;color:#2a2a2a;letter-spacing:0.585px;left:423.50px;top:402.20px;">Equity Growth</div>
<div class="tx" id="lg2" style="font-size:12px;color:#2a2a2a;letter-spacing:0.419px;left:621.50px;top:402.20px;">Croissance</div>
</body></html>
